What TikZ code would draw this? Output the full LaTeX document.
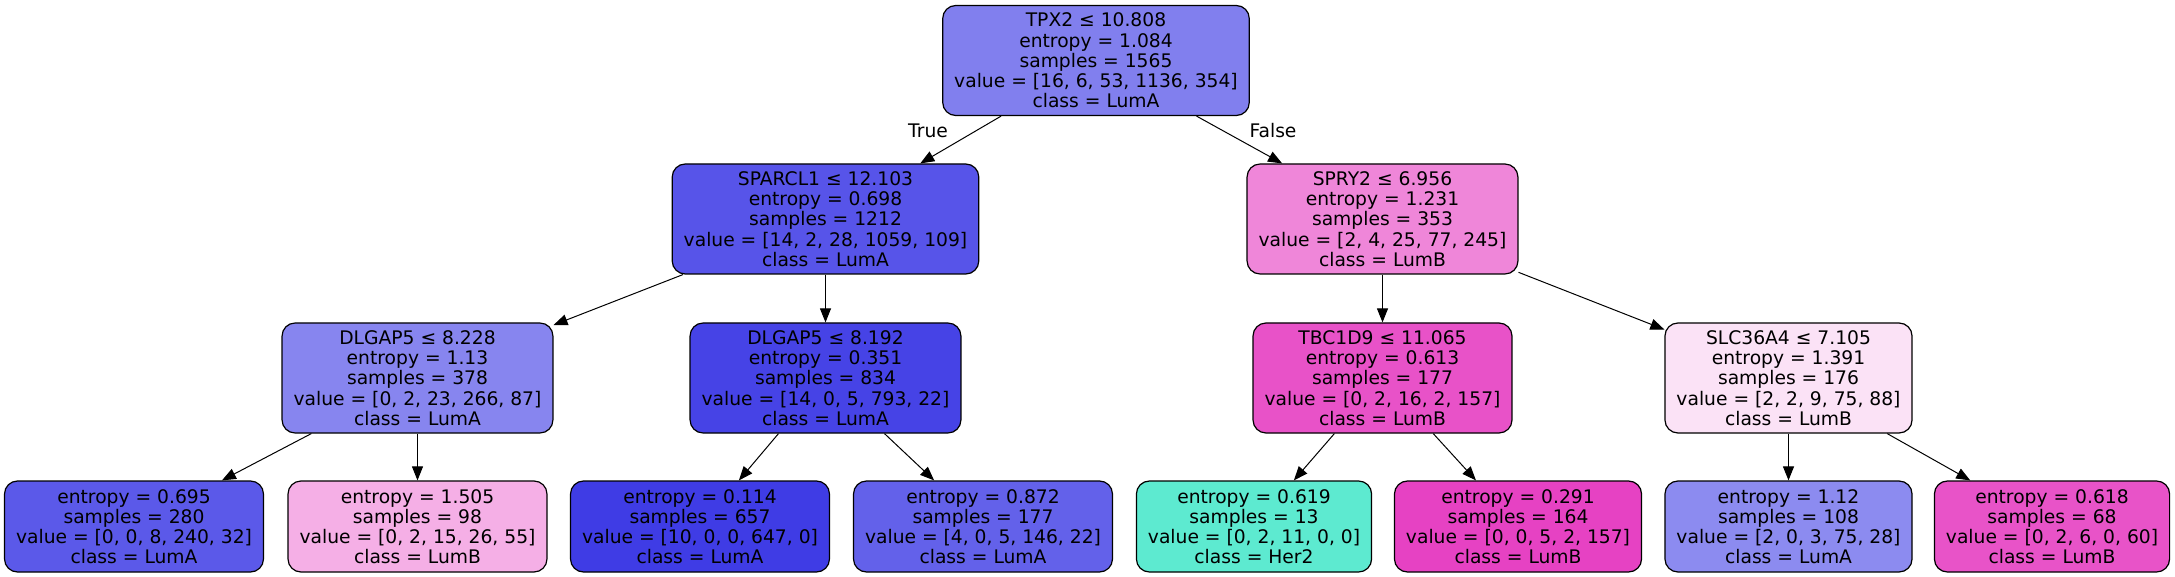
\documentclass[tikz,border=0pt]{standalone}
\usepackage{fontspec}
\setmainfont{DejaVu Sans}
\usetikzlibrary{arrows.meta}
\definecolor{c0}{RGB}{129,127,238}
\definecolor{c1}{RGB}{87,84,233}
\definecolor{c2}{RGB}{135,133,239}
\definecolor{c3}{RGB}{91,89,233}
\definecolor{c4}{RGB}{245,175,230}
\definecolor{c5}{RGB}{70,67,230}
\definecolor{c6}{RGB}{63,60,229}
\definecolor{c7}{RGB}{99,97,234}
\definecolor{c8}{RGB}{239,134,217}
\definecolor{c9}{RGB}{232,82,200}
\definecolor{c10}{RGB}{93,234,208}
\definecolor{c11}{RGB}{230,66,195}
\definecolor{c12}{RGB}{251,226,246}
\definecolor{c13}{RGB}{140,139,240}
\definecolor{c14}{RGB}{232,83,200}
\begin{document}
\begin{tikzpicture}
[x=0.5pt,y=-0.5pt,
  nodedecorate/.style={shape=rectangle,rounded corners=6.5pt,draw,line width=0.6pt,fill=#1,%
    align=center,inner xsep=5.75pt,inner ysep=2pt,minimum height=55pt,%
    font=\fontsize{9.35}{10.1}\selectfont},
  leafdecorate/.style={nodedecorate=#1,minimum height=45.5pt},
  labeldecorate/.style={inner sep=0pt,font=\fontsize{9.35}{10.1}\selectfont},
  linedecorate/.style={-{Triangle[length=7pt,width=5.5pt]},line width=0.5pt}]
\useasboundingbox (0,0) rectangle (2175,577);
% split nodes
\node (0) at (1096,60.5) [nodedecorate=c0] {TPX2 ≤ 10.808\\entropy = 1.084\\samples = 1565\\value = [16, 6, 53, 1136, 354]\\class = LumA};
\node (1) at (825.5,219) [nodedecorate=c1] {SPARCL1 ≤ 12.103\\entropy = 0.698\\samples = 1212\\value = [14, 2, 28, 1059, 109]\\class = LumA};
\node (8) at (1382.5,219) [nodedecorate=c8] {SPRY2 ≤ 6.956\\entropy = 1.231\\samples = 353\\value = [2, 4, 25, 77, 245]\\class = LumB};
\node (2) at (417.5,378) [nodedecorate=c2] {DLGAP5 ≤ 8.228\\entropy = 1.13\\samples = 378\\value = [0, 2, 23, 266, 87]\\class = LumA};
\node (5) at (825.5,378) [nodedecorate=c5] {DLGAP5 ≤ 8.192\\entropy = 0.351\\samples = 834\\value = [14, 0, 5, 793, 22]\\class = LumA};
\node (9) at (1382.5,378) [nodedecorate=c9] {TBC1D9 ≤ 11.065\\entropy = 0.613\\samples = 177\\value = [0, 2, 16, 2, 157]\\class = LumB};
\node (12) at (1788.5,378) [nodedecorate=c12] {SLC36A4 ≤ 7.105\\entropy = 1.391\\samples = 176\\value = [2, 2, 9, 75, 88]\\class = LumB};
% leaves
\node (3) at (134,526.5) [leafdecorate=c3] {entropy = 0.695\\samples = 280\\value = [0, 0, 8, 240, 32]\\class = LumA};
\node (4) at (417.5,526.5) [leafdecorate=c4] {entropy = 1.505\\samples = 98\\value = [0, 2, 15, 26, 55]\\class = LumB};
\node (6) at (700,526.5) [leafdecorate=c6] {entropy = 0.114\\samples = 657\\value = [10, 0, 0, 647, 0]\\class = LumA};
\node (7) at (983,526.5) [leafdecorate=c7] {entropy = 0.872\\samples = 177\\value = [4, 0, 5, 146, 22]\\class = LumA};
\node (10) at (1254,526.5) [leafdecorate=c10] {entropy = 0.619\\samples = 13\\value = [0, 2, 11, 0, 0]\\class = Her2};
\node (11) at (1518,526.5) [leafdecorate=c11] {entropy = 0.291\\samples = 164\\value = [0, 0, 5, 2, 157]\\class = LumB};
\node (13) at (1788.5,526.5) [leafdecorate=c13] {entropy = 1.12\\samples = 108\\value = [2, 0, 3, 75, 28]\\class = LumA};
\node (14) at (2052,526.5) [leafdecorate=c14] {entropy = 0.618\\samples = 68\\value = [0, 2, 6, 0, 60]\\class = LumB};
% branch labels
\node (true) at (928,131) [labeldecorate] {True};
\node (false) at (1273,131) [labeldecorate] {False};
% edges
\path
(0) edge[linedecorate] (1)
(0) edge[linedecorate] (8)
(1) edge[linedecorate] (2)
(1) edge[linedecorate] (5)
(2) edge[linedecorate] (3)
(2) edge[linedecorate] (4)
(5) edge[linedecorate] (6)
(5) edge[linedecorate] (7)
(8) edge[linedecorate] (9)
(8) edge[linedecorate] (12)
(9) edge[linedecorate] (10)
(9) edge[linedecorate] (11)
(12) edge[linedecorate] (13)
(12) edge[linedecorate] (14);
\end{tikzpicture}
\end{document}
